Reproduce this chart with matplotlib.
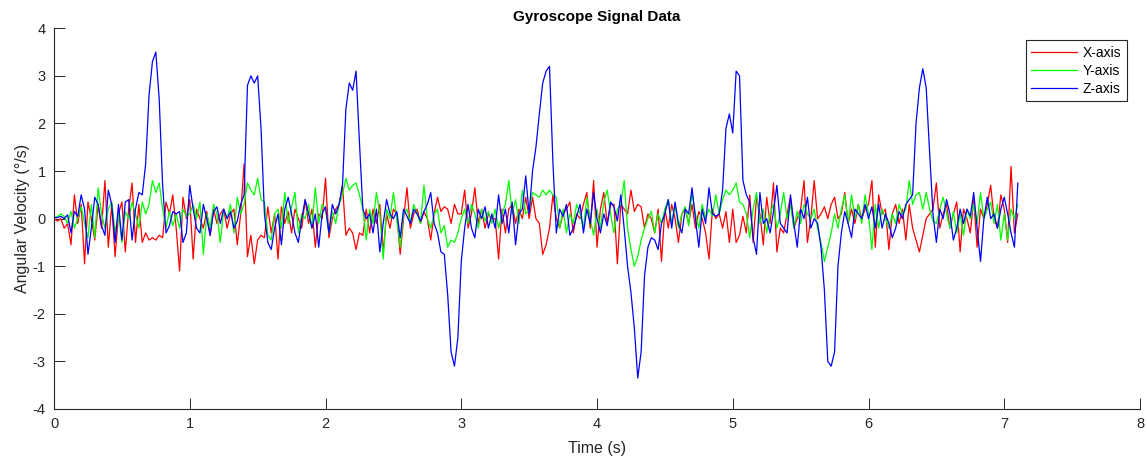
import numpy as np
import matplotlib
matplotlib.use('Agg')
import matplotlib.pyplot as plt

plt.rcParams['font.family'] = ['Liberation Sans', 'DejaVu Sans']
plt.rcParams['axes.unicode_minus'] = False

# sampling: 40 Hz read-back of the gyroscope trace (0 .. 7.1 s)
dt = 0.025

# X-axis angular velocity (deg/s)
gyro_x = [
    0.0, -0.05, 0.0, -0.2, -0.1, -0.55, 0.5, -0.1, 0.3, -0.95, 0.35, 0.0, -0.45, 0.3, -0.2, 0.8, -0.6, 0.3, -0.8, 0.1,
    0.35, -0.7, 0.2, 0.75, -0.5, 0.3, -0.5, -0.3, -0.45, -0.4, -0.45, -0.35, -0.4, 0.35, 0.1, 0.5, -0.2, -1.1, 0.45, 0.0,
    0.4, -0.85, 0.2, 0.0, -0.2, 0.15, -0.35, 0.2, -0.1, 0.1, 0.2, -0.2, 0.1, 0.2, -0.55, 0.1, 1.15, -0.8, -0.35, -0.95,
    -0.45, -0.35, -0.4, 0.25, -0.3, 0.1, -0.85, 0.25, -0.1, 0.15, -0.3, 0.2, 0.0, -0.2, 0.4, -0.1, 0.2, -0.6, 0.1, 0.0,
    0.85, -0.4, 0.0, 0.2, 0.3, 0.7, -0.35, -0.2, -0.3, -0.65, -0.3, -0.35, 0.2, -0.3, 0.2, -0.1, 0.3, -0.7, 0.1, -0.2,
    0.2, 0.1, -0.75, 0.0, 0.65, -0.2, 0.1, 0.2, -0.1, 0.15, 0.0, -0.45, 0.1, 0.45, 0.15, 0.25, 0.2, -0.1, 0.3, 0.1,
    0.1, 0.6, -0.2, 0.1, 0.65, -0.1, 0.2, -0.2, 0.1, 0.0, 0.0, -0.85, 0.2, -0.3, 0.2, 0.3, -0.1, 0.2, 0.0, 0.45,
    0.0, 0.45, 0.0, -0.1, -0.75, -0.55, -0.2, 0.5, 0.0, -0.2, 0.1, 0.2, 0.35, -0.3, 0.1, 0.0, 0.3, 0.55, -0.2, 0.8,
    -0.6, 0.2, 0.55, -0.1, 0.3, 0.3, -0.95, 0.3, 0.2, 0.1, 0.6, 0.15, 0.3, 0.25, -0.2, 0.1, 0.0, -0.3, 0.2, -0.9,
    0.2, -0.2, 0.3, 0.0, -0.5, 0.1, 0.2, -0.1, 0.3, -0.2, 0.15, 0.0, -0.3, -0.85, 0.2, 0.0, 0.1, -0.2, 0.15, -0.5,
    0.2, -0.5, -0.35, 0.05, -0.3, 0.5, -0.5, 0.45, 0.1, -0.55, 0.45, -0.1, 0.75, -0.7, -0.2, -0.3, 0.1, 0.45, -0.2, 0.0,
    0.2, 0.8, -0.5, 0.0, 0.8, 0.0, 0.1, 0.25, 0.0, 0.3, 0.45, 0.0, 0.1, 0.55, -0.1, 0.2, -0.1, 0.3, 0.0, 0.2,
    0.3, 0.8, -0.6, 0.5, 0.1, 0.2, -0.65, 0.1, 0.3, -0.1, 0.2, -0.45, 0.3, -0.2, -0.45, -0.7, -0.35, 0.0, 0.1, 0.2,
    0.75, -0.2, 0.1, 0.3, -0.2, 0.1, 0.35, -0.7, 0.2, 0.0, -0.3, 0.4, -0.6, 0.2, 0.0, 0.3, 0.7, 0.0, -0.2, 0.5,
    0.2, -0.5, 1.1, -0.3, 0.1,
]

# Y-axis angular velocity
gyro_y = [
    0.0, 0.05, 0.1, 0.05, -0.1, 0.15, -0.2, 0.0, 0.25, -0.1, -0.4, 0.3, -0.4, 0.65, 0.1, -0.2, 0.2, 0.35, -0.3, 0.1,
    -0.5, 0.15, 0.0, 0.35, 0.1, -0.2, 0.35, 0.1, 0.3, 0.8, 0.55, 0.75, 0.2, -0.2, 0.15, -0.15, 0.1, -0.2, 0.2, 0.05,
    0.1, 0.3, 0.0, 0.35, -0.75, 0.1, -0.2, 0.3, 0.1, -0.5, 0.2, 0.0, 0.3, -0.3, 0.45, 0.1, 0.3, 0.75, 0.6, 0.5,
    0.85, 0.4, 0.35, -0.35, -0.45, 0.1, 0.2, -0.2, 0.55, -0.1, 0.25, 0.55, -0.3, 0.1, 0.0, 0.3, -0.2, 0.65, -0.1, 0.3,
    0.2, -0.3, 0.15, -0.1, 0.3, 0.5, 0.85, 0.6, 0.7, 0.75, 0.5, 0.2, -0.45, 0.2, -0.1, 0.55, 0.1, -0.85, 0.2, 0.0,
    0.55, 0.0, -0.6, 0.1, 0.2, -0.1, 0.3, 0.1, -0.1, 0.7, 0.0, -0.2, 0.1, 0.2, -0.3, -0.15, -0.6, -0.45, -0.5, -0.3,
    0.0, 0.2, -0.1, 0.3, 0.1, -0.2, 0.2, -0.05, 0.15, -0.1, 0.2, -0.2, 0.1, 0.3, 0.8, 0.1, 0.4, -0.1, 0.6, 0.1,
    0.2, 0.55, 0.5, 0.45, 0.6, 0.5, 0.6, 0.5, 0.45, -0.2, 0.2, -0.3, 0.1, -0.1, 0.3, 0.1, -0.2, 0.45, 0.0, -0.35,
    0.2, -0.2, 0.35, 0.6, 0.1, -0.3, 0.2, 0.3, 0.8, -0.2, -0.65, -1.0, -0.8, -0.45, -0.2, 0.0, 0.15, -0.3, 0.1, -0.1,
    0.2, 0.4, -0.1, 0.3, -0.2, 0.1, 0.25, -0.15, 0.55, 0.1, -0.2, 0.3, 0.0, 0.2, 0.05, 0.5, 0.1, 0.4, 0.6, 0.5,
    0.6, 0.75, 0.35, 0.3, 0.1, -0.4, 0.2, 0.55, -0.1, 0.2, -0.3, 0.1, 0.3, -0.2, 0.1, 0.55, 0.0, 0.3, -0.2, 0.15,
    -0.1, 0.3, 0.1, 0.0, 0.2, -0.2, -0.5, -0.9, -0.6, -0.3, 0.1, -0.2, 0.2, 0.5, -0.1, 0.5, 0.0, 0.3, -0.1, 0.5,
    0.1, -0.65, 0.3, -0.2, 0.2, 0.0, -0.2, 0.1, -0.1, 0.3, 0.1, 0.2, 0.8, 0.3, 0.5, 0.55, 0.2, 0.55, 0.2, -0.05,
    -0.1, 0.2, 0.45, 0.1, -0.2, 0.15, -0.3, 0.1, -0.35, 0.2, 0.0, 0.3, -0.1, 0.55, 0.0, 0.2, 0.35, -0.1, 0.3, -0.45,
    0.1, -0.45, 0.2, 0.0, 0.3,
]

# Z-axis angular velocity
gyro_z = [
    0.03, 0.02, 0.05, 0.0, 0.08, -0.3, 0.15, 0.05, 0.5, 0.2, -0.75, -0.2, 0.45, 0.3, -0.15, -0.35, 0.6, 0.3, -0.5, 0.3,
    -0.45, 0.35, 0.4, -0.45, 0.2, 0.55, 0.5, 1.15, 2.6, 3.3, 3.5, 2.5, 0.7, -0.3, -0.15, 0.15, 0.1, 0.15, -0.5, -0.3,
    0.7, 0.2, -0.2, -0.3, 0.3, 0.0, -0.35, 0.15, 0.25, -0.1, 0.2, 0.0, 0.15, -0.2, -0.05, 0.3, 0.5, 2.8, 3.0, 2.85,
    3.0, 1.9, 0.1, -0.5, -0.65, -0.2, 0.1, -0.55, 0.2, 0.45, 0.1, -0.3, -0.5, 0.0, 0.4, 0.1, -0.2, 0.1, -0.6, 0.1,
    0.25, -0.3, 0.3, 0.1, 0.3, 0.7, 2.3, 2.85, 2.7, 3.1, 1.6, 0.2, 0.0, 0.1, -0.3, 0.2, -0.7, -0.1, 0.4, 0.1,
    0.0, 0.15, -0.4, 0.2, 0.05, -0.1, 0.2, 0.1, -0.05, 0.15, 0.3, 0.55, -0.1, -0.3, -0.7, -0.75, -1.6, -2.8, -3.1, -2.5,
    -0.9, -0.2, 0.3, -0.2, -0.4, 0.2, 0.0, 0.25, -0.2, 0.1, -0.2, 0.5, -0.1, 0.2, -0.3, 0.35, -0.55, 0.1, 0.2, 0.9,
    0.1, 1.0, 1.5, 2.2, 2.85, 3.1, 3.2, 1.2, -0.3, 0.2, 0.05, 0.3, -0.35, -0.2, 0.05, 0.3, -0.3, 0.2, -0.1, 0.55,
    0.0, -0.3, 0.1, -0.15, 0.35, 0.25, -0.05, 0.5, -0.2, -1.0, -1.55, -2.3, -3.35, -2.8, -1.2, -0.6, -0.4, -0.45, -0.65, -0.1,
    0.1, 0.4, -0.2, 0.35, -0.1, -0.3, 0.2, 0.1, 0.65, 0.0, -0.6, 0.2, -0.1, 0.65, 0.1, 0.05, 0.1, 0.6, 1.9, 2.2,
    1.8, 3.1, 3.0, 0.8, 0.5, 0.35, -0.4, -0.75, 0.55, -0.1, 0.0, -0.3, 0.15, 0.7, -0.1, -0.2, -0.3, 0.5, -0.1, -0.6,
    0.2, 0.0, 0.45, -0.2, 0.0, -0.1, -0.6, -1.5, -3.0, -3.1, -2.8, -1.0, -0.3, 0.15, -0.1, -0.4, 0.2, 0.1, 0.0, 0.3,
    0.0, 0.25, -0.2, 0.3, -0.2, 0.1, -0.1, -0.4, -0.2, 0.15, 0.0, 0.3, 0.4, 0.5, 2.0, 2.75, 3.15, 2.75, 1.4, 0.1,
    -0.5, 0.2, 0.0, 0.4, 0.1, -0.45, -0.2, 0.2, -0.1, 0.2, 0.05, 0.55, -0.2, -0.9, 0.0, 0.45, 0.0, 0.1, -0.2, 0.2,
    0.45, 0.1, -0.3, -0.6, 0.75,
]

labels = ['X-axis', 'Y-axis', 'Z-axis']
colors = ['#ff0000', '#00ff00', '#0000ff']

t = np.arange(len(gyro_z)) * dt

fig = plt.figure(figsize=(11.47, 4.61), dpi=100)
ax = fig.add_axes([0.0471, 0.1128, 0.9468, 0.8258])

for sig, lab, col in zip([gyro_x, gyro_y, gyro_z], labels, colors):
    ax.plot(t, sig, color=col, lw=0.9, label=lab)

ax.set_xlim(0, 8)
ax.set_ylim(-4, 4)
ax.set_xticks(range(0, 9))
ax.set_yticks(range(-4, 5))

dark = '#262626'
for side in ['top', 'right']:
    ax.spines[side].set_visible(False)
for side in ['left', 'bottom']:
    ax.spines[side].set_color(dark)
    ax.spines[side].set_linewidth(0.8)
ax.tick_params(direction='in', length=8, width=0.7, colors=dark, labelsize=10.5, pad=6)

ax.set_title('Gyroscope Signal Data', fontsize=11, fontweight='bold', pad=5)
ax.set_xlabel('Time (s)', fontsize=11.5, color=dark, labelpad=7)
ax.set_ylabel('Angular Velocity (°/s)', fontsize=11.5, color=dark, labelpad=2)

leg = ax.legend(loc='upper right', bbox_to_anchor=(0.9877, 0.9693), borderaxespad=0,
                fontsize=10, handlelength=3.3, handletextpad=0.4, labelspacing=0.3,
                borderpad=0.4, fancybox=False, framealpha=1, edgecolor=dark)
leg.get_frame().set_linewidth(0.8)

fig.savefig('out.png', dpi=100)
